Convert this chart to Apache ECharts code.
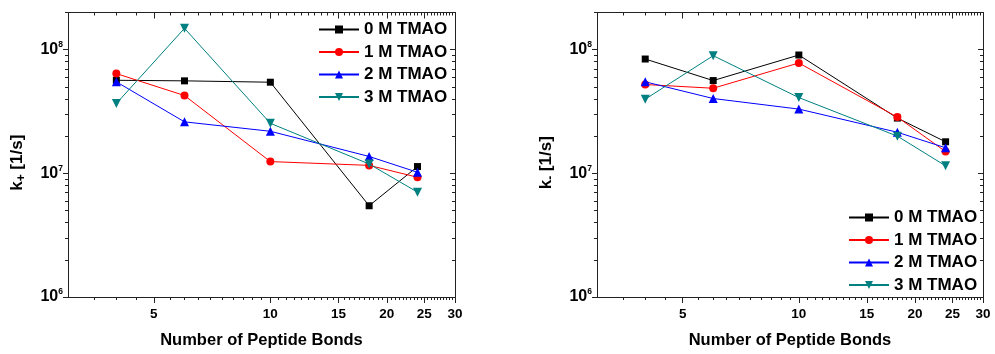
<!DOCTYPE html>
<html>
<head>
<meta charset="utf-8">
<script src="https://cdn.jsdelivr.net/npm/echarts@6/dist/echarts.min.js"></script>
<style>
  html, body { margin: 0; padding: 0; background: #fff; }
  #chart { width: 995px; height: 354px; }
</style>
</head>
<body>
<div id="chart"></div>
<script>
// Number of peptide bonds (x positions shared by every series)
const peptideBonds = [4, 6, 10, 18, 24];

// Folding rate k+ [1/s] for each TMAO concentration
const kPlus0M = [5.66e7, 5.6e7, 5.46e7, 5.47e6, 1.135e7];
const kPlus1M = [6.41e7, 4.26e7, 1.245e7, 1.16e7, 9.3e6];
const kPlus2M = [5.5e7, 2.61e7, 2.19e7, 1.37e7, 1.02e7];
const kPlus3M = [3.67e7, 1.49e8, 2.54e7, 1.19e7, 7.05e6];

// Unfolding rate k- [1/s] for each TMAO concentration
const kMinus0M = [8.41e7, 5.63e7, 9.06e7, 2.8e7, 1.8e7];
const kMinus1M = [5.23e7, 4.88e7, 7.81e7, 2.85e7, 1.5e7];
const kMinus2M = [5.5e7, 4.03e7, 3.31e7, 2.15e7, 1.61e7];
const kMinus3M = [3.98e7, 8.95e7, 4.1e7, 2.0e7, 1.15e7];

const seriesNames = ['0 M TMAO', '1 M TMAO', '2 M TMAO', '3 M TMAO'];

// Tick positions
const xMajorTicks = [5, 10, 15, 20, 25, 30];
const xMinorTicks = [];
for (let v = 3.5; v < 30; v += 0.5) {
  if (v % 5 !== 0) xMinorTicks.push(v);
}
const yMajorTicks = [1e6, 1e7, 1e8];
const yMinorTicks = [];
[1e6, 1e7].forEach(d => { for (let m = 2; m <= 9; m++) yMinorTicks.push(m * d); });
yMinorTicks.push(2e8);

const FONT = "'Liberation Sans', Arial, sans-serif";
const AXIS_COLOR = '#222';
const colors = ['#000000', '#ff0000', '#0000ff', '#008080'];
const symbols = ['rect', 'circle', 'triangle', 'triangle'];
const symbolSizes = [7, 8, 9, 9];
const symbolRotates = [0, 0, 0, 180];

const grids = [
  { left: 68, top: 12.5, width: 387, height: 285.5 },
  { left: 597, top: 12.5, width: 386, height: 285.5 }
];

const xAxes = [];
const yAxes = [];

function buildAxes(g, yName) {
  const lineStyle = { color: AXIS_COLOR, width: 1 };
  const baseX = { type: 'log', logBase: 10, gridIndex: g, min: 3, max: 30, splitLine: { show: false } };
  const baseY = { type: 'log', logBase: 10, gridIndex: g, min: 1e6, max: 2e8, splitLine: { show: false } };
  // bottom axis with labels and major ticks
  xAxes.push(Object.assign({}, baseX, {
    position: 'bottom',
    axisLine: { show: true, lineStyle },
    axisTick: { show: true, customValues: xMajorTicks, length: 6, lineStyle },
    axisLabel: {
      customValues: xMajorTicks, margin: 10,
      formatter: v => String(Math.round(v)),
      fontFamily: FONT, fontWeight: 'bold', fontSize: 13.5, color: '#000'
    },
    name: 'Number of Peptide Bonds',
    nameLocation: 'middle', nameGap: 35,
    nameTextStyle: { fontFamily: FONT, fontWeight: 'bold', fontSize: 16.5, color: '#000' }
  }));
  // bottom minor ticks
  xAxes.push(Object.assign({}, baseX, {
    position: 'bottom',
    axisLine: { show: false },
    axisTick: { show: true, customValues: xMinorTicks, length: 3, lineStyle },
    axisLabel: { show: false }
  }));
  // top mirror
  xAxes.push(Object.assign({}, baseX, {
    position: 'top',
    axisLine: { show: true, lineStyle },
    axisTick: { show: true, inside: true, customValues: xMajorTicks, length: 6, lineStyle },
    axisLabel: { show: false }
  }));
  xAxes.push(Object.assign({}, baseX, {
    position: 'top',
    axisLine: { show: false },
    axisTick: { show: true, inside: true, customValues: xMinorTicks, length: 3, lineStyle },
    axisLabel: { show: false }
  }));

  // left axis with labels
  yAxes.push(Object.assign({}, baseY, {
    position: 'left',
    axisLine: { show: true, lineStyle },
    axisTick: { show: true, customValues: yMajorTicks, length: 5, lineStyle },
    axisLabel: {
      customValues: yMajorTicks, margin: 5,
      formatter: v => '{b|10}{s|' + Math.round(Math.log10(v)) + '}',
      rich: {
        b: { fontFamily: FONT, fontWeight: 'bold', fontSize: 16, color: '#000' },
        s: { fontFamily: FONT, fontWeight: 'bold', fontSize: 8.5, color: '#000', padding: [0, 0, 10, 0] }
      }
    },
    name: yName,
    nameLocation: 'middle', nameGap: 40,
    nameTextStyle: {
      padding: [0, 16, 0, 0],
      rich: {
        k: { fontFamily: FONT, fontWeight: 'bold', fontSize: 17, color: '#000' },
        sub: { fontFamily: FONT, fontWeight: 'bold', fontSize: 12, color: '#000', padding: [9, 0, 0, 0] }
      }
    }
  }));
  yAxes.push(Object.assign({}, baseY, {
    position: 'left',
    axisLine: { show: false },
    axisTick: { show: true, customValues: yMinorTicks, length: 3, lineStyle },
    axisLabel: { show: false }
  }));
  // right mirror
  yAxes.push(Object.assign({}, baseY, {
    position: 'right',
    axisLine: { show: true, lineStyle },
    axisTick: { show: true, inside: true, customValues: yMajorTicks, length: 5, lineStyle },
    axisLabel: { show: false }
  }));
  yAxes.push(Object.assign({}, baseY, {
    position: 'right',
    axisLine: { show: false },
    axisTick: { show: true, inside: true, customValues: yMinorTicks, length: 3, lineStyle },
    axisLabel: { show: false }
  }));
}

buildAxes(0, '{k|k}{sub|+}{k| [1/s]}');
buildAxes(1, '{k|k}{sub|-}{k| [1/s]}');

function makeSeries(g, values, i) {
  return {
    type: 'line',
    name: seriesNames[i],
    xAxisIndex: g * 4,
    yAxisIndex: g * 4,
    data: peptideBonds.map((x, j) => [x, values[j]]),
    symbol: symbols[i],
    symbolSize: symbolSizes[i],
    symbolRotate: symbolRotates[i],
    showAllSymbol: true,
    color: colors[i],
    lineStyle: { color: colors[i], width: 1 },
    itemStyle: { color: colors[i] },
    z: 3 + i
  };
}

const leftSets = [kPlus0M, kPlus1M, kPlus2M, kPlus3M];
const rightSets = [kMinus0M, kMinus1M, kMinus2M, kMinus3M];
const series = [];
leftSets.forEach((vals, i) => series.push(makeSeries(0, vals, i)));
rightSets.forEach((vals, i) => series.push(makeSeries(1, vals, i)));

const legendBase = {
  orient: 'vertical',
  itemWidth: 40,
  itemHeight: 10,
  itemGap: 5.5,
  padding: 0,
  selectedMode: false,
  data: seriesNames,
  textStyle: { fontFamily: FONT, fontWeight: 'bold', fontSize: 17, color: '#000', lineHeight: 17 }
};

const option = {
  animation: false,
  backgroundColor: '#fff',
  grid: grids,
  xAxis: xAxes,
  yAxis: yAxes,
  legend: [
    Object.assign({}, legendBase, { left: 318, top: 21 }),
    Object.assign({}, legendBase, { left: 848, top: 209 })
  ],
  series
};

const chart = echarts.init(document.getElementById('chart'), null, { renderer: 'canvas' });
chart.setOption(option);
</script>
</body>
</html>
